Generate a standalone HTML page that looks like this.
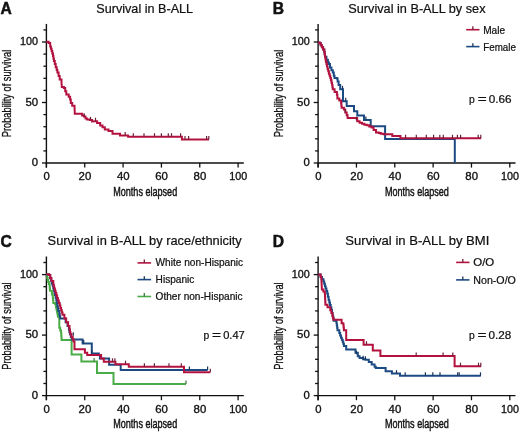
<!DOCTYPE html><html><head><meta charset="utf-8"><style>html,body{margin:0;padding:0;background:#fff;}svg{display:block;will-change:transform;} text{stroke:#111;stroke-width:0.22px;}</style></head><body><svg width="520" height="432" viewBox="0 0 520 432" font-family='"Liberation Sans", sans-serif' fill="#111">
<rect width="520" height="432" fill="#fff"/>
<text x="0.6" y="13.6" font-size="15.6" font-weight="bold" style="stroke-width:0.5px">A</text>
<text x="272.7" y="13.6" font-size="15.6" font-weight="bold" style="stroke-width:0.5px">B</text>
<text x="0.6" y="246.5" font-size="15.6" font-weight="bold" style="stroke-width:0.5px">C</text>
<text x="272.7" y="246.5" font-size="15.6" font-weight="bold" style="stroke-width:0.5px">D</text>
<text x="96.3" y="12.7" font-size="12.6" textLength="96.8" lengthAdjust="spacingAndGlyphs">Survival in B-ALL</text>
<text x="348.3" y="12.7" font-size="12.6" textLength="137.2" lengthAdjust="spacingAndGlyphs">Survival in B-ALL by sex</text>
<text x="47.6" y="245.1" font-size="12.9" textLength="194.2" lengthAdjust="spacingAndGlyphs">Survival in B-ALL by race/ethnicity</text>
<text x="345.3" y="245.0" font-size="12.9" textLength="144.0" lengthAdjust="spacingAndGlyphs">Survival in B-ALL by BMI</text>
<line x1="46.4" y1="23.90" x2="46.4" y2="167.60" stroke="#111" stroke-width="1.4"/>
<line x1="45.70" y1="163.0" x2="243.80" y2="163.0" stroke="#111" stroke-width="1.4"/>
<line x1="42.00" y1="163.00" x2="46.4" y2="163.00" stroke="#111" stroke-width="1.3"/>
<line x1="43.40" y1="150.90" x2="46.4" y2="150.90" stroke="#111" stroke-width="1.3"/>
<line x1="43.40" y1="138.80" x2="46.4" y2="138.80" stroke="#111" stroke-width="1.3"/>
<line x1="43.40" y1="126.70" x2="46.4" y2="126.70" stroke="#111" stroke-width="1.3"/>
<line x1="43.40" y1="114.60" x2="46.4" y2="114.60" stroke="#111" stroke-width="1.3"/>
<line x1="42.00" y1="102.50" x2="46.4" y2="102.50" stroke="#111" stroke-width="1.3"/>
<line x1="43.40" y1="90.40" x2="46.4" y2="90.40" stroke="#111" stroke-width="1.3"/>
<line x1="43.40" y1="78.30" x2="46.4" y2="78.30" stroke="#111" stroke-width="1.3"/>
<line x1="43.40" y1="66.20" x2="46.4" y2="66.20" stroke="#111" stroke-width="1.3"/>
<line x1="43.40" y1="54.10" x2="46.4" y2="54.10" stroke="#111" stroke-width="1.3"/>
<line x1="42.00" y1="42.00" x2="46.4" y2="42.00" stroke="#111" stroke-width="1.3"/>
<line x1="43.40" y1="29.90" x2="46.4" y2="29.90" stroke="#111" stroke-width="1.3"/>
<line x1="46.40" y1="163.0" x2="46.40" y2="167.60" stroke="#111" stroke-width="1.3"/>
<text x="46.60" y="180.20" text-anchor="middle" font-size="10.5" style="stroke-width:0.32px" textLength="6.3" lengthAdjust="spacingAndGlyphs">0</text>
<line x1="84.74" y1="163.0" x2="84.74" y2="167.60" stroke="#111" stroke-width="1.3"/>
<text x="84.94" y="180.20" text-anchor="middle" font-size="10.5" style="stroke-width:0.32px" textLength="12.7" lengthAdjust="spacingAndGlyphs">20</text>
<line x1="123.08" y1="163.0" x2="123.08" y2="167.60" stroke="#111" stroke-width="1.3"/>
<text x="123.28" y="180.20" text-anchor="middle" font-size="10.5" style="stroke-width:0.32px" textLength="12.7" lengthAdjust="spacingAndGlyphs">40</text>
<line x1="161.42" y1="163.0" x2="161.42" y2="167.60" stroke="#111" stroke-width="1.3"/>
<text x="161.62" y="180.20" text-anchor="middle" font-size="10.5" style="stroke-width:0.32px" textLength="12.7" lengthAdjust="spacingAndGlyphs">60</text>
<line x1="199.76" y1="163.0" x2="199.76" y2="167.60" stroke="#111" stroke-width="1.3"/>
<text x="199.96" y="180.20" text-anchor="middle" font-size="10.5" style="stroke-width:0.32px" textLength="12.7" lengthAdjust="spacingAndGlyphs">80</text>
<line x1="238.10" y1="163.0" x2="238.10" y2="167.60" stroke="#111" stroke-width="1.3"/>
<text x="238.30" y="180.20" text-anchor="middle" font-size="10.5" style="stroke-width:0.32px" textLength="18.0" lengthAdjust="spacingAndGlyphs">100</text>
<text x="38.10" y="166.20" text-anchor="end" font-size="10.5" style="stroke-width:0.32px" textLength="6.3" lengthAdjust="spacingAndGlyphs">0</text>
<text x="38.10" y="105.70" text-anchor="end" font-size="10.5" style="stroke-width:0.32px" textLength="12.7" lengthAdjust="spacingAndGlyphs">50</text>
<text x="38.10" y="45.20" text-anchor="end" font-size="10.5" style="stroke-width:0.32px" textLength="18.0" lengthAdjust="spacingAndGlyphs">100</text>
<text x="113.20" y="195.80" font-size="13" style="stroke-width:0.45px" textLength="64" lengthAdjust="spacingAndGlyphs">Months elapsed</text>
<text transform="translate(11.30,93.50) rotate(-90)" x="0" y="0" text-anchor="middle" font-size="13" style="stroke-width:0.3px" textLength="87.4" lengthAdjust="spacingAndGlyphs">Probability of survival</text>
<line x1="318.1" y1="23.90" x2="318.1" y2="167.60" stroke="#111" stroke-width="1.4"/>
<line x1="317.40" y1="163.0" x2="515.50" y2="163.0" stroke="#111" stroke-width="1.4"/>
<line x1="313.70" y1="163.00" x2="318.1" y2="163.00" stroke="#111" stroke-width="1.3"/>
<line x1="315.10" y1="150.90" x2="318.1" y2="150.90" stroke="#111" stroke-width="1.3"/>
<line x1="315.10" y1="138.80" x2="318.1" y2="138.80" stroke="#111" stroke-width="1.3"/>
<line x1="315.10" y1="126.70" x2="318.1" y2="126.70" stroke="#111" stroke-width="1.3"/>
<line x1="315.10" y1="114.60" x2="318.1" y2="114.60" stroke="#111" stroke-width="1.3"/>
<line x1="313.70" y1="102.50" x2="318.1" y2="102.50" stroke="#111" stroke-width="1.3"/>
<line x1="315.10" y1="90.40" x2="318.1" y2="90.40" stroke="#111" stroke-width="1.3"/>
<line x1="315.10" y1="78.30" x2="318.1" y2="78.30" stroke="#111" stroke-width="1.3"/>
<line x1="315.10" y1="66.20" x2="318.1" y2="66.20" stroke="#111" stroke-width="1.3"/>
<line x1="315.10" y1="54.10" x2="318.1" y2="54.10" stroke="#111" stroke-width="1.3"/>
<line x1="313.70" y1="42.00" x2="318.1" y2="42.00" stroke="#111" stroke-width="1.3"/>
<line x1="315.10" y1="29.90" x2="318.1" y2="29.90" stroke="#111" stroke-width="1.3"/>
<line x1="318.10" y1="163.0" x2="318.10" y2="167.60" stroke="#111" stroke-width="1.3"/>
<text x="318.30" y="180.20" text-anchor="middle" font-size="10.5" style="stroke-width:0.32px" textLength="6.3" lengthAdjust="spacingAndGlyphs">0</text>
<line x1="356.44" y1="163.0" x2="356.44" y2="167.60" stroke="#111" stroke-width="1.3"/>
<text x="356.64" y="180.20" text-anchor="middle" font-size="10.5" style="stroke-width:0.32px" textLength="12.7" lengthAdjust="spacingAndGlyphs">20</text>
<line x1="394.78" y1="163.0" x2="394.78" y2="167.60" stroke="#111" stroke-width="1.3"/>
<text x="394.98" y="180.20" text-anchor="middle" font-size="10.5" style="stroke-width:0.32px" textLength="12.7" lengthAdjust="spacingAndGlyphs">40</text>
<line x1="433.12" y1="163.0" x2="433.12" y2="167.60" stroke="#111" stroke-width="1.3"/>
<text x="433.32" y="180.20" text-anchor="middle" font-size="10.5" style="stroke-width:0.32px" textLength="12.7" lengthAdjust="spacingAndGlyphs">60</text>
<line x1="471.46" y1="163.0" x2="471.46" y2="167.60" stroke="#111" stroke-width="1.3"/>
<text x="471.66" y="180.20" text-anchor="middle" font-size="10.5" style="stroke-width:0.32px" textLength="12.7" lengthAdjust="spacingAndGlyphs">80</text>
<line x1="509.80" y1="163.0" x2="509.80" y2="167.60" stroke="#111" stroke-width="1.3"/>
<text x="510.00" y="180.20" text-anchor="middle" font-size="10.5" style="stroke-width:0.32px" textLength="18.0" lengthAdjust="spacingAndGlyphs">100</text>
<text x="309.80" y="166.20" text-anchor="end" font-size="10.5" style="stroke-width:0.32px" textLength="6.3" lengthAdjust="spacingAndGlyphs">0</text>
<text x="309.80" y="105.70" text-anchor="end" font-size="10.5" style="stroke-width:0.32px" textLength="12.7" lengthAdjust="spacingAndGlyphs">50</text>
<text x="309.80" y="45.20" text-anchor="end" font-size="10.5" style="stroke-width:0.32px" textLength="18.0" lengthAdjust="spacingAndGlyphs">100</text>
<text x="384.90" y="195.80" font-size="13" style="stroke-width:0.45px" textLength="64" lengthAdjust="spacingAndGlyphs">Months elapsed</text>
<text transform="translate(283.00,93.50) rotate(-90)" x="0" y="0" text-anchor="middle" font-size="13" style="stroke-width:0.3px" textLength="87.4" lengthAdjust="spacingAndGlyphs">Probability of survival</text>
<line x1="46.4" y1="256.50" x2="46.4" y2="400.20" stroke="#111" stroke-width="1.4"/>
<line x1="45.70" y1="395.6" x2="243.80" y2="395.6" stroke="#111" stroke-width="1.4"/>
<line x1="42.00" y1="395.60" x2="46.4" y2="395.60" stroke="#111" stroke-width="1.3"/>
<line x1="43.40" y1="383.50" x2="46.4" y2="383.50" stroke="#111" stroke-width="1.3"/>
<line x1="43.40" y1="371.40" x2="46.4" y2="371.40" stroke="#111" stroke-width="1.3"/>
<line x1="43.40" y1="359.30" x2="46.4" y2="359.30" stroke="#111" stroke-width="1.3"/>
<line x1="43.40" y1="347.20" x2="46.4" y2="347.20" stroke="#111" stroke-width="1.3"/>
<line x1="42.00" y1="335.10" x2="46.4" y2="335.10" stroke="#111" stroke-width="1.3"/>
<line x1="43.40" y1="323.00" x2="46.4" y2="323.00" stroke="#111" stroke-width="1.3"/>
<line x1="43.40" y1="310.90" x2="46.4" y2="310.90" stroke="#111" stroke-width="1.3"/>
<line x1="43.40" y1="298.80" x2="46.4" y2="298.80" stroke="#111" stroke-width="1.3"/>
<line x1="43.40" y1="286.70" x2="46.4" y2="286.70" stroke="#111" stroke-width="1.3"/>
<line x1="42.00" y1="274.60" x2="46.4" y2="274.60" stroke="#111" stroke-width="1.3"/>
<line x1="43.40" y1="262.50" x2="46.4" y2="262.50" stroke="#111" stroke-width="1.3"/>
<line x1="46.40" y1="395.6" x2="46.40" y2="400.20" stroke="#111" stroke-width="1.3"/>
<text x="46.60" y="412.80" text-anchor="middle" font-size="10.5" style="stroke-width:0.32px" textLength="6.3" lengthAdjust="spacingAndGlyphs">0</text>
<line x1="84.74" y1="395.6" x2="84.74" y2="400.20" stroke="#111" stroke-width="1.3"/>
<text x="84.94" y="412.80" text-anchor="middle" font-size="10.5" style="stroke-width:0.32px" textLength="12.7" lengthAdjust="spacingAndGlyphs">20</text>
<line x1="123.08" y1="395.6" x2="123.08" y2="400.20" stroke="#111" stroke-width="1.3"/>
<text x="123.28" y="412.80" text-anchor="middle" font-size="10.5" style="stroke-width:0.32px" textLength="12.7" lengthAdjust="spacingAndGlyphs">40</text>
<line x1="161.42" y1="395.6" x2="161.42" y2="400.20" stroke="#111" stroke-width="1.3"/>
<text x="161.62" y="412.80" text-anchor="middle" font-size="10.5" style="stroke-width:0.32px" textLength="12.7" lengthAdjust="spacingAndGlyphs">60</text>
<line x1="199.76" y1="395.6" x2="199.76" y2="400.20" stroke="#111" stroke-width="1.3"/>
<text x="199.96" y="412.80" text-anchor="middle" font-size="10.5" style="stroke-width:0.32px" textLength="12.7" lengthAdjust="spacingAndGlyphs">80</text>
<line x1="238.10" y1="395.6" x2="238.10" y2="400.20" stroke="#111" stroke-width="1.3"/>
<text x="238.30" y="412.80" text-anchor="middle" font-size="10.5" style="stroke-width:0.32px" textLength="18.0" lengthAdjust="spacingAndGlyphs">100</text>
<text x="38.10" y="398.80" text-anchor="end" font-size="10.5" style="stroke-width:0.32px" textLength="6.3" lengthAdjust="spacingAndGlyphs">0</text>
<text x="38.10" y="338.30" text-anchor="end" font-size="10.5" style="stroke-width:0.32px" textLength="12.7" lengthAdjust="spacingAndGlyphs">50</text>
<text x="38.10" y="277.80" text-anchor="end" font-size="10.5" style="stroke-width:0.32px" textLength="18.0" lengthAdjust="spacingAndGlyphs">100</text>
<text x="113.20" y="428.40" font-size="13" style="stroke-width:0.45px" textLength="64" lengthAdjust="spacingAndGlyphs">Months elapsed</text>
<text transform="translate(11.30,326.10) rotate(-90)" x="0" y="0" text-anchor="middle" font-size="13" style="stroke-width:0.3px" textLength="87.4" lengthAdjust="spacingAndGlyphs">Probability of survival</text>
<line x1="318.1" y1="256.50" x2="318.1" y2="400.20" stroke="#111" stroke-width="1.4"/>
<line x1="317.40" y1="395.6" x2="515.50" y2="395.6" stroke="#111" stroke-width="1.4"/>
<line x1="313.70" y1="395.60" x2="318.1" y2="395.60" stroke="#111" stroke-width="1.3"/>
<line x1="315.10" y1="383.50" x2="318.1" y2="383.50" stroke="#111" stroke-width="1.3"/>
<line x1="315.10" y1="371.40" x2="318.1" y2="371.40" stroke="#111" stroke-width="1.3"/>
<line x1="315.10" y1="359.30" x2="318.1" y2="359.30" stroke="#111" stroke-width="1.3"/>
<line x1="315.10" y1="347.20" x2="318.1" y2="347.20" stroke="#111" stroke-width="1.3"/>
<line x1="313.70" y1="335.10" x2="318.1" y2="335.10" stroke="#111" stroke-width="1.3"/>
<line x1="315.10" y1="323.00" x2="318.1" y2="323.00" stroke="#111" stroke-width="1.3"/>
<line x1="315.10" y1="310.90" x2="318.1" y2="310.90" stroke="#111" stroke-width="1.3"/>
<line x1="315.10" y1="298.80" x2="318.1" y2="298.80" stroke="#111" stroke-width="1.3"/>
<line x1="315.10" y1="286.70" x2="318.1" y2="286.70" stroke="#111" stroke-width="1.3"/>
<line x1="313.70" y1="274.60" x2="318.1" y2="274.60" stroke="#111" stroke-width="1.3"/>
<line x1="315.10" y1="262.50" x2="318.1" y2="262.50" stroke="#111" stroke-width="1.3"/>
<line x1="318.10" y1="395.6" x2="318.10" y2="400.20" stroke="#111" stroke-width="1.3"/>
<text x="318.30" y="412.80" text-anchor="middle" font-size="10.5" style="stroke-width:0.32px" textLength="6.3" lengthAdjust="spacingAndGlyphs">0</text>
<line x1="356.44" y1="395.6" x2="356.44" y2="400.20" stroke="#111" stroke-width="1.3"/>
<text x="356.64" y="412.80" text-anchor="middle" font-size="10.5" style="stroke-width:0.32px" textLength="12.7" lengthAdjust="spacingAndGlyphs">20</text>
<line x1="394.78" y1="395.6" x2="394.78" y2="400.20" stroke="#111" stroke-width="1.3"/>
<text x="394.98" y="412.80" text-anchor="middle" font-size="10.5" style="stroke-width:0.32px" textLength="12.7" lengthAdjust="spacingAndGlyphs">40</text>
<line x1="433.12" y1="395.6" x2="433.12" y2="400.20" stroke="#111" stroke-width="1.3"/>
<text x="433.32" y="412.80" text-anchor="middle" font-size="10.5" style="stroke-width:0.32px" textLength="12.7" lengthAdjust="spacingAndGlyphs">60</text>
<line x1="471.46" y1="395.6" x2="471.46" y2="400.20" stroke="#111" stroke-width="1.3"/>
<text x="471.66" y="412.80" text-anchor="middle" font-size="10.5" style="stroke-width:0.32px" textLength="12.7" lengthAdjust="spacingAndGlyphs">80</text>
<line x1="509.80" y1="395.6" x2="509.80" y2="400.20" stroke="#111" stroke-width="1.3"/>
<text x="510.00" y="412.80" text-anchor="middle" font-size="10.5" style="stroke-width:0.32px" textLength="18.0" lengthAdjust="spacingAndGlyphs">100</text>
<text x="309.80" y="398.80" text-anchor="end" font-size="10.5" style="stroke-width:0.32px" textLength="6.3" lengthAdjust="spacingAndGlyphs">0</text>
<text x="309.80" y="338.30" text-anchor="end" font-size="10.5" style="stroke-width:0.32px" textLength="12.7" lengthAdjust="spacingAndGlyphs">50</text>
<text x="309.80" y="277.80" text-anchor="end" font-size="10.5" style="stroke-width:0.32px" textLength="18.0" lengthAdjust="spacingAndGlyphs">100</text>
<text x="384.90" y="428.40" font-size="13" style="stroke-width:0.45px" textLength="64" lengthAdjust="spacingAndGlyphs">Months elapsed</text>
<text transform="translate(283.00,326.10) rotate(-90)" x="0" y="0" text-anchor="middle" font-size="13" style="stroke-width:0.3px" textLength="87.4" lengthAdjust="spacingAndGlyphs">Probability of survival</text>
<path d="M46.40,41.80 L48.60,41.80 L48.60,43.00 L50.20,43.00 L50.20,46.50 L50.90,46.50 L50.90,48.75 L51.60,48.75 L51.60,51.00 L52.30,51.00 L52.30,53.50 L53.00,53.50 L53.00,56.00 L53.45,56.00 L53.45,58.45 L53.90,58.45 L53.90,60.90 L54.80,60.90 L54.80,64.05 L55.70,64.05 L55.70,67.20 L56.70,67.20 L56.70,70.00 L57.40,70.00 L57.40,72.40 L58.60,72.40 L58.60,75.90 L59.70,75.90 L59.70,79.40 L61.50,79.40 L61.50,82.80 L61.80,87.00 L63.90,87.00 L63.90,88.00 L65.20,88.00 L65.20,91.20 L66.30,91.20 L66.30,94.40 L68.70,94.40 L68.70,96.80 L70.10,96.80 L70.10,99.60 L70.80,99.60 L70.80,103.00 L72.20,103.00 L72.20,105.80 L74.50,105.80 L74.80,113.80 L81.60,113.80 L82.10,113.80 L82.10,115.40 L84.00,115.40 L84.00,116.50 L85.50,116.50 L85.50,118.50 L87.10,118.50 L87.10,119.60 L89.80,119.60 L89.80,120.00 L92.10,120.00 L92.10,121.50 L95.50,121.20 L97.10,121.20 L97.10,123.10 L100.20,123.10 L100.20,125.40 L102.50,125.40 L102.50,127.30 L104.80,127.30 L104.80,129.40 L108.50,129.40 L108.50,131.00 L112.50,131.00 L112.50,133.80 L120.00,133.80 L120.00,135.60 L128.10,135.60 L128.10,136.70 L181.90,136.70 L181.90,139.50 L209.00,139.50" fill="none" stroke="#b3123f" stroke-width="2.0" stroke-linejoin="miter" stroke-linecap="butt"/>
<line x1="84.20" y1="116.77" x2="84.20" y2="113.27" stroke="#6e2038" stroke-width="1.2"/>
<line x1="90.50" y1="120.46" x2="90.50" y2="116.96" stroke="#6e2038" stroke-width="1.2"/>
<line x1="95.50" y1="121.20" x2="95.50" y2="117.70" stroke="#6e2038" stroke-width="1.2"/>
<line x1="125.20" y1="135.60" x2="125.20" y2="132.10" stroke="#6e2038" stroke-width="1.2"/>
<line x1="133.30" y1="136.70" x2="133.30" y2="133.20" stroke="#6e2038" stroke-width="1.2"/>
<line x1="144.00" y1="136.70" x2="144.00" y2="133.20" stroke="#6e2038" stroke-width="1.2"/>
<line x1="154.50" y1="136.70" x2="154.50" y2="133.20" stroke="#6e2038" stroke-width="1.2"/>
<line x1="161.40" y1="136.70" x2="161.40" y2="133.20" stroke="#6e2038" stroke-width="1.2"/>
<line x1="168.30" y1="136.70" x2="168.30" y2="133.20" stroke="#6e2038" stroke-width="1.2"/>
<line x1="171.50" y1="136.70" x2="171.50" y2="133.20" stroke="#6e2038" stroke-width="1.2"/>
<line x1="180.60" y1="136.70" x2="180.60" y2="133.20" stroke="#6e2038" stroke-width="1.2"/>
<line x1="185.00" y1="139.50" x2="185.00" y2="136.00" stroke="#6e2038" stroke-width="1.2"/>
<line x1="188.60" y1="139.50" x2="188.60" y2="136.00" stroke="#6e2038" stroke-width="1.2"/>
<line x1="206.60" y1="139.50" x2="206.60" y2="136.00" stroke="#6e2038" stroke-width="1.2"/>
<line x1="208.80" y1="139.50" x2="208.80" y2="136.00" stroke="#6e2038" stroke-width="1.2"/>
<path d="M318.10,42.60 L319.60,42.60 L319.60,43.20 L320.75,43.20 L320.75,45.25 L321.90,45.25 L321.90,47.30 L323.10,47.30 L323.10,49.60 L324.30,49.60 L324.30,51.90 L324.65,51.90 L324.65,54.35 L325.00,54.35 L325.00,56.80 L326.45,56.80 L326.45,59.65 L327.90,59.65 L327.90,62.50 L328.90,62.50 L328.90,64.00 L330.00,64.00 L330.00,67.50 L331.40,67.50 L331.40,70.30 L332.80,70.30 L332.80,72.40 L333.80,72.40 L333.80,75.80 L334.50,75.80 L334.50,77.90 L336.90,77.90 L336.90,78.60 L337.60,78.60 L337.60,81.40 L338.60,81.40 L338.60,85.00 L340.20,85.00 L340.20,87.60 L340.20,89.30 L343.00,89.30 L343.00,101.30 L346.70,101.30 L346.70,105.90 L354.00,105.90 L354.00,111.30 L357.30,111.30 L357.30,115.40 L364.00,115.40 L364.00,119.90 L370.70,119.90 L370.70,126.20 L385.10,126.20 L385.10,139.10 L454.80,139.10 L454.80,163.00" fill="none" stroke="#1c4a82" stroke-width="2.0" stroke-linejoin="miter" stroke-linecap="butt"/>
<line x1="342.50" y1="89.30" x2="342.50" y2="85.80" stroke="#1b3558" stroke-width="1.2"/>
<line x1="345.70" y1="101.30" x2="345.70" y2="97.80" stroke="#1b3558" stroke-width="1.2"/>
<line x1="365.90" y1="119.90" x2="365.90" y2="116.40" stroke="#1b3558" stroke-width="1.2"/>
<path d="M318.10,42.60 L319.60,42.60 L319.60,43.20 L320.75,43.20 L320.75,45.25 L321.90,45.25 L321.90,47.30 L323.10,47.30 L323.10,49.60 L324.30,49.60 L324.30,51.90 L324.65,51.90 L324.65,54.35 L325.00,54.35 L325.00,56.80 L325.45,56.80 L325.45,59.40 L325.90,59.40 L325.90,62.00 L326.47,62.00 L326.47,64.30 L327.03,64.30 L327.03,66.60 L327.60,66.60 L327.60,68.90 L328.25,68.90 L328.25,71.33 L328.90,71.33 L328.90,73.75 L329.60,73.75 L329.60,75.83 L330.30,75.83 L330.30,77.90 L330.90,77.90 L330.90,80.27 L331.50,80.27 L331.50,82.63 L332.10,82.63 L332.10,85.00 L332.45,85.00 L332.45,87.15 L332.80,87.15 L332.80,89.30 L334.60,89.30 L334.60,92.00 L336.90,92.00 L336.90,94.80 L337.40,94.80 L337.40,98.50 L339.30,98.50 L339.30,100.40 L341.10,100.40 L341.10,103.10 L341.35,103.10 L341.35,105.45 L341.60,105.45 L341.60,107.80 L343.90,107.80 L343.90,109.60 L345.30,109.60 L345.30,112.40 L346.70,112.40 L346.70,115.20 L347.60,115.20 L347.60,118.00 L354.80,118.00 L357.20,118.00 L357.20,121.30 L359.60,121.30 L359.60,122.80 L362.00,122.80 L362.00,123.75 L364.40,123.75 L364.40,124.70 L366.80,124.70 L366.80,125.20 L369.20,125.20 L369.20,126.60 L371.60,126.60 L371.60,127.60 L373.60,127.60 L373.60,130.00 L376.00,130.00 L376.00,132.40 L378.80,132.40 L378.80,132.90 L380.80,132.90 L380.80,133.80 L383.70,133.80 L383.70,134.30 L392.30,134.30 L392.30,136.10 L400.40,136.10 L400.40,138.30 L481.10,138.30" fill="none" stroke="#b3123f" stroke-width="2.0" stroke-linejoin="miter" stroke-linecap="butt"/>
<line x1="345.30" y1="112.40" x2="345.30" y2="108.90" stroke="#6e2038" stroke-width="1.2"/>
<line x1="356.40" y1="120.20" x2="356.40" y2="116.70" stroke="#6e2038" stroke-width="1.2"/>
<line x1="405.60" y1="138.30" x2="405.60" y2="134.80" stroke="#6e2038" stroke-width="1.2"/>
<line x1="416.30" y1="138.30" x2="416.30" y2="134.80" stroke="#6e2038" stroke-width="1.2"/>
<line x1="426.30" y1="138.30" x2="426.30" y2="134.80" stroke="#6e2038" stroke-width="1.2"/>
<line x1="433.60" y1="138.30" x2="433.60" y2="134.80" stroke="#6e2038" stroke-width="1.2"/>
<line x1="439.80" y1="138.30" x2="439.80" y2="134.80" stroke="#6e2038" stroke-width="1.2"/>
<line x1="443.30" y1="138.30" x2="443.30" y2="134.80" stroke="#6e2038" stroke-width="1.2"/>
<line x1="452.50" y1="138.30" x2="452.50" y2="134.80" stroke="#6e2038" stroke-width="1.2"/>
<line x1="457.40" y1="138.30" x2="457.40" y2="134.80" stroke="#6e2038" stroke-width="1.2"/>
<line x1="460.60" y1="138.30" x2="460.60" y2="134.80" stroke="#6e2038" stroke-width="1.2"/>
<line x1="478.20" y1="138.30" x2="478.20" y2="134.80" stroke="#6e2038" stroke-width="1.2"/>
<line x1="480.80" y1="138.30" x2="480.80" y2="134.80" stroke="#6e2038" stroke-width="1.2"/>
<path d="M46.40,274.40 L47.20,274.40 L47.20,277.90 L47.70,277.90 L47.70,279.95 L48.20,279.95 L48.20,282.00 L48.90,282.00 L48.90,284.10 L49.60,284.10 L49.60,286.20 L49.80,286.20 L49.80,288.50 L50.00,288.50 L50.00,290.80 L51.90,290.80 L51.90,294.50 L52.80,294.50 L52.80,297.80 L53.05,297.80 L53.05,300.35 L53.30,300.35 L53.30,302.90 L55.10,302.90 L55.10,304.30 L56.00,304.30 L56.00,307.40 L56.50,307.40 L56.50,309.70 L57.00,309.70 L57.00,312.00 L57.45,312.00 L57.45,314.35 L57.90,314.35 L57.90,316.70 L59.30,316.70 L59.30,320.40 L59.30,327.80 L60.20,327.80 L60.20,330.55 L61.10,330.55 L61.10,333.30 L61.27,333.30 L61.27,335.53 L61.43,335.53 L61.43,337.77 L61.60,337.77 L61.60,340.00 L71.60,340.00 L71.60,354.50 L81.40,354.50 L81.40,361.50 L97.00,361.50 L97.00,372.90 L113.50,372.90 L113.50,383.90 L186.00,383.90" fill="none" stroke="#4aac46" stroke-width="2.0" stroke-linejoin="miter" stroke-linecap="butt"/>
<line x1="94.10" y1="361.50" x2="94.10" y2="358.00" stroke="#3d7a42" stroke-width="1.2"/>
<line x1="186.00" y1="383.90" x2="186.00" y2="380.40" stroke="#3d7a42" stroke-width="1.2"/>
<path d="M46.40,274.40 L47.70,274.40 L49.10,274.40 L49.10,275.10 L50.15,275.10 L50.15,278.20 L51.20,278.20 L51.20,281.30 L51.90,281.30 L51.90,283.40 L52.60,283.40 L52.60,285.50 L53.20,285.50 L53.20,288.00 L53.80,288.00 L53.80,290.50 L54.40,290.50 L54.40,292.75 L55.00,292.75 L55.00,295.00 L55.65,295.00 L55.65,297.75 L56.30,297.75 L56.30,300.50 L56.85,300.50 L56.85,303.50 L57.40,303.50 L57.40,306.50 L57.90,306.50 L57.90,308.80 L58.40,308.80 L58.40,311.10 L59.30,311.10 L59.30,313.90 L59.75,313.90 L59.75,316.20 L60.20,316.20 L60.20,318.50 L63.40,318.50 L65.60,318.50 L65.60,322.20 L67.50,322.20 L67.50,325.90 L68.90,325.90 L68.90,329.60 L69.40,329.60 L69.40,331.95 L69.90,331.95 L69.90,334.30 L70.85,334.30 L70.85,336.90 L71.80,336.90 L71.80,339.50 L82.60,339.50 L82.60,343.50 L91.80,343.50 L91.80,353.40 L98.80,353.40 L98.80,355.10 L99.90,355.10 L99.90,358.60 L109.10,358.60 L109.10,364.70 L120.70,364.70 L120.70,370.00 L207.60,370.00" fill="none" stroke="#1c4a82" stroke-width="2.0" stroke-linejoin="miter" stroke-linecap="butt"/>
<line x1="73.30" y1="335.80" x2="73.30" y2="332.30" stroke="#1b3558" stroke-width="1.2"/>
<line x1="83.70" y1="343.50" x2="83.70" y2="340.00" stroke="#1b3558" stroke-width="1.2"/>
<line x1="91.80" y1="353.40" x2="91.80" y2="349.90" stroke="#1b3558" stroke-width="1.2"/>
<line x1="189.40" y1="370.00" x2="189.40" y2="366.50" stroke="#1b3558" stroke-width="1.2"/>
<line x1="207.60" y1="370.00" x2="207.60" y2="366.50" stroke="#1b3558" stroke-width="1.2"/>
<path d="M46.40,274.20 L47.70,274.20 L49.10,274.20 L49.10,275.10 L50.25,275.10 L50.25,278.10 L51.40,278.10 L51.40,281.10 L53.30,281.10 L53.30,284.40 L53.75,284.40 L53.75,286.45 L54.20,286.45 L54.20,288.50 L54.90,288.50 L54.90,290.80 L55.60,290.80 L55.60,293.10 L56.37,293.10 L56.37,295.60 L57.13,295.60 L57.13,298.10 L57.90,298.10 L57.90,300.60 L58.80,300.60 L58.80,303.10 L59.70,303.10 L59.70,305.60 L60.40,305.60 L60.40,307.90 L61.10,307.90 L61.10,310.20 L61.80,310.20 L61.80,312.50 L62.50,312.50 L62.50,314.80 L64.40,314.80 L64.40,318.50 L66.20,318.50 L66.20,322.20 L68.10,322.20 L68.10,325.90 L69.50,325.90 L69.50,329.60 L69.95,329.60 L69.95,331.95 L70.40,331.95 L70.40,334.30 L71.55,334.30 L71.55,336.90 L72.70,336.90 L72.70,339.50 L73.60,339.50 L73.60,341.50 L74.50,341.50 L74.50,343.50 L74.50,349.30 L84.90,349.30 L84.90,352.80 L87.20,352.80 L87.20,355.10 L98.20,355.10 L101.10,355.10 L101.10,358.60 L103.80,358.60 L103.80,361.80 L115.40,361.80 L115.40,364.20 L128.80,364.20 L128.80,366.80 L184.00,366.80 L184.00,372.20 L210.30,372.20" fill="none" stroke="#b3123f" stroke-width="2.0" stroke-linejoin="miter" stroke-linecap="butt"/>
<line x1="112.50" y1="361.80" x2="112.50" y2="358.30" stroke="#6e2038" stroke-width="1.2"/>
<line x1="114.90" y1="361.80" x2="114.90" y2="358.30" stroke="#6e2038" stroke-width="1.2"/>
<line x1="125.50" y1="364.20" x2="125.50" y2="360.70" stroke="#6e2038" stroke-width="1.2"/>
<line x1="144.40" y1="366.80" x2="144.40" y2="363.30" stroke="#6e2038" stroke-width="1.2"/>
<line x1="154.40" y1="366.80" x2="154.40" y2="363.30" stroke="#6e2038" stroke-width="1.2"/>
<line x1="169.00" y1="366.80" x2="169.00" y2="363.30" stroke="#6e2038" stroke-width="1.2"/>
<line x1="181.30" y1="366.80" x2="181.30" y2="363.30" stroke="#6e2038" stroke-width="1.2"/>
<line x1="210.30" y1="372.20" x2="210.30" y2="368.70" stroke="#6e2038" stroke-width="1.2"/>
<path d="M318.10,274.40 L320.60,274.40 L320.60,276.90 L322.05,276.90 L322.05,279.20 L323.50,279.20 L323.50,281.50 L324.20,281.50 L324.20,283.83 L324.90,283.83 L324.90,286.17 L325.60,286.17 L325.60,288.50 L326.40,288.50 L326.40,291.00 L327.20,291.00 L327.20,293.50 L327.90,293.50 L327.90,296.75 L328.60,296.75 L328.60,300.00 L329.30,300.00 L329.30,302.50 L330.00,302.50 L330.00,305.00 L330.70,305.00 L330.70,307.50 L331.40,307.50 L331.40,310.00 L332.00,310.00 L332.00,312.90 L332.60,312.90 L332.60,315.80 L333.18,315.80 L333.18,318.25 L333.75,318.25 L333.75,320.70 L336.40,320.70 L336.40,322.70 L336.77,322.70 L336.77,325.23 L337.13,325.23 L337.13,327.77 L337.50,327.77 L337.50,330.30 L339.30,330.30 L339.30,333.10 L340.15,333.10 L340.15,335.45 L341.00,335.45 L341.00,337.80 L341.85,337.80 L341.85,339.80 L342.70,339.80 L342.70,341.80 L343.30,341.80 L343.30,343.85 L343.90,343.85 L343.90,345.90 L346.20,345.90 L346.20,349.40 L353.10,349.40 L355.50,349.40 L355.50,352.80 L357.80,352.80 L357.80,356.30 L359.60,356.30 L359.60,358.10 L363.10,358.10 L363.10,359.20 L365.40,359.20 L365.40,359.80 L368.80,359.80 L368.80,362.10 L371.70,362.10 L371.70,364.40 L374.60,364.40 L374.60,366.70 L375.80,366.70 L375.80,367.90 L385.60,367.90 L385.60,371.30 L391.90,371.30 L391.90,373.60 L400.00,373.60 L400.00,375.80 L480.80,375.80" fill="none" stroke="#1c4a82" stroke-width="2.0" stroke-linejoin="miter" stroke-linecap="butt"/>
<line x1="356.40" y1="354.17" x2="356.40" y2="350.67" stroke="#1b3558" stroke-width="1.2"/>
<line x1="363.10" y1="359.20" x2="363.10" y2="355.70" stroke="#1b3558" stroke-width="1.2"/>
<line x1="365.40" y1="359.80" x2="365.40" y2="356.30" stroke="#1b3558" stroke-width="1.2"/>
<line x1="396.50" y1="373.60" x2="396.50" y2="370.10" stroke="#1b3558" stroke-width="1.2"/>
<line x1="405.20" y1="375.80" x2="405.20" y2="372.30" stroke="#1b3558" stroke-width="1.2"/>
<line x1="425.40" y1="375.80" x2="425.40" y2="372.30" stroke="#1b3558" stroke-width="1.2"/>
<line x1="432.80" y1="375.80" x2="432.80" y2="372.30" stroke="#1b3558" stroke-width="1.2"/>
<line x1="440.00" y1="375.80" x2="440.00" y2="372.30" stroke="#1b3558" stroke-width="1.2"/>
<line x1="457.70" y1="375.80" x2="457.70" y2="372.30" stroke="#1b3558" stroke-width="1.2"/>
<line x1="459.20" y1="375.80" x2="459.20" y2="372.30" stroke="#1b3558" stroke-width="1.2"/>
<line x1="480.50" y1="375.80" x2="480.50" y2="372.30" stroke="#1b3558" stroke-width="1.2"/>
<path d="M318.10,274.40 L319.90,274.60 L320.60,274.60 L320.60,276.80 L321.30,276.80 L321.30,279.00 L321.45,279.00 L321.45,281.25 L321.60,281.25 L321.60,283.50 L321.90,289.40 L323.35,289.40 L323.35,291.50 L324.80,291.50 L324.80,293.60 L324.95,293.60 L324.95,296.38 L325.10,296.38 L325.10,299.15 L325.25,299.15 L325.25,301.93 L325.40,301.93 L325.40,304.70 L327.50,304.70 L327.50,307.20 L330.30,307.20 L330.30,310.30 L331.35,310.30 L331.35,313.05 L332.40,313.05 L332.40,315.80 L332.85,315.80 L332.85,317.80 L333.30,317.80 L333.30,319.80 L341.00,319.80 L341.60,319.80 L341.60,323.30 L343.30,323.30 L343.30,324.50 L343.60,324.50 L343.60,327.40 L343.90,327.40 L343.90,330.30 L346.20,330.30 L346.20,330.80 L346.20,340.10 L363.60,340.10 L363.60,344.70 L372.80,344.70 L372.80,350.50 L380.40,350.50 L380.40,356.10 L454.60,356.10 L454.60,366.20 L481.10,366.20" fill="none" stroke="#b3123f" stroke-width="2.0" stroke-linejoin="miter" stroke-linecap="butt"/>
<line x1="366.50" y1="344.70" x2="366.50" y2="341.20" stroke="#6e2038" stroke-width="1.2"/>
<line x1="416.20" y1="356.10" x2="416.20" y2="352.60" stroke="#6e2038" stroke-width="1.2"/>
<line x1="443.10" y1="356.10" x2="443.10" y2="352.60" stroke="#6e2038" stroke-width="1.2"/>
<line x1="452.80" y1="356.10" x2="452.80" y2="352.60" stroke="#6e2038" stroke-width="1.2"/>
<line x1="460.50" y1="366.20" x2="460.50" y2="362.70" stroke="#6e2038" stroke-width="1.2"/>
<line x1="478.50" y1="366.20" x2="478.50" y2="362.70" stroke="#6e2038" stroke-width="1.2"/>
<line x1="480.80" y1="366.20" x2="480.80" y2="362.70" stroke="#6e2038" stroke-width="1.2"/>
<line x1="466.2" y1="29.7" x2="479.5" y2="29.7" stroke="#b3123f" stroke-width="1.6"/>
<line x1="472.85" y1="29.7" x2="472.85" y2="26.3" stroke="#6e2038" stroke-width="1.3"/>
<text x="483.2" y="33.50" font-size="10.1">Male</text>
<line x1="466.2" y1="46.6" x2="479.5" y2="46.6" stroke="#1c4a82" stroke-width="1.6"/>
<line x1="472.85" y1="46.6" x2="472.85" y2="43.2" stroke="#1b3558" stroke-width="1.3"/>
<text x="483.2" y="51.20" font-size="10.1" textLength="32.7" lengthAdjust="spacingAndGlyphs">Female</text>
<line x1="137.5" y1="262.9" x2="151.1" y2="262.9" stroke="#b3123f" stroke-width="1.6"/>
<line x1="144.3" y1="262.9" x2="144.3" y2="259.5" stroke="#6e2038" stroke-width="1.3"/>
<text x="155.6" y="265.90" font-size="10.1">White non-Hispanic</text>
<line x1="137.5" y1="279.6" x2="151.1" y2="279.6" stroke="#1c4a82" stroke-width="1.6"/>
<line x1="144.3" y1="279.6" x2="144.3" y2="276.20000000000005" stroke="#1b3558" stroke-width="1.3"/>
<text x="155.6" y="283.40" font-size="10.1">Hispanic</text>
<line x1="137.5" y1="296.5" x2="151.1" y2="296.5" stroke="#4aac46" stroke-width="1.6"/>
<line x1="144.3" y1="296.5" x2="144.3" y2="293.1" stroke="#3d7a42" stroke-width="1.3"/>
<text x="155.6" y="300.30" font-size="10.1">Other non-Hispanic</text>
<line x1="456.1" y1="262.4" x2="469.5" y2="262.4" stroke="#b3123f" stroke-width="1.6"/>
<line x1="462.8" y1="262.4" x2="462.8" y2="259.0" stroke="#6e2038" stroke-width="1.3"/>
<text x="473.3" y="266.20" font-size="10.1" textLength="20.9" lengthAdjust="spacingAndGlyphs">O/O</text>
<line x1="456.1" y1="279.9" x2="469.5" y2="279.9" stroke="#1c4a82" stroke-width="1.6"/>
<line x1="462.8" y1="279.9" x2="462.8" y2="276.5" stroke="#1b3558" stroke-width="1.3"/>
<text x="473.3" y="283.70" font-size="10.1" textLength="42.6" lengthAdjust="spacingAndGlyphs">Non-O/O</text>
<text x="469.10" y="102.7" font-size="10.3">p</text>
<text x="477.70" y="102.7" font-size="10.3" textLength="9.0" lengthAdjust="spacingAndGlyphs">=</text>
<text x="488.80" y="102.7" font-size="10.3" textLength="22.8" lengthAdjust="spacingAndGlyphs">0.66</text>
<text x="203.50" y="338.8" font-size="10.3">p</text>
<text x="212.10" y="338.8" font-size="10.3" textLength="9.0" lengthAdjust="spacingAndGlyphs">=</text>
<text x="223.20" y="338.8" font-size="10.3" textLength="21.6" lengthAdjust="spacingAndGlyphs">0.47</text>
<text x="468.90" y="338.8" font-size="10.3">p</text>
<text x="477.50" y="338.8" font-size="10.3" textLength="9.0" lengthAdjust="spacingAndGlyphs">=</text>
<text x="488.60" y="338.8" font-size="10.3" textLength="22.8" lengthAdjust="spacingAndGlyphs">0.28</text>
</svg></body></html>
